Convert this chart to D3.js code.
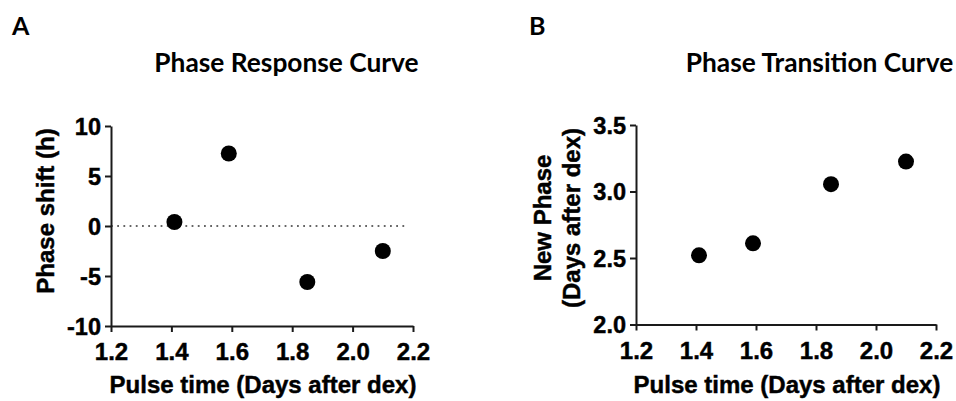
<!DOCTYPE html>
<html><head><meta charset="utf-8">
<script src="https://cdn.jsdelivr.net/npm/d3@7"></script>
<style>
html,body{margin:0;padding:0;background:#fff;}
svg{display:block;}
</style></head>
<body>
<svg id="chart" width="956" height="401"></svg>
<script>
// ---- data ----
const pulseTimes = [1.41, 1.59, 1.85, 2.10];
const phaseShift = [0.4, 7.25, -5.6, -2.5];
const newPhase = [2.52, 2.61, 3.055, 3.225];
const xTicks = [1.2, 1.4, 1.6, 1.8, 2.0, 2.2];
const yTicksA = [-10, -5, 0, 5, 10];
const yTicksB = [2.0, 2.5, 3.0, 3.5];
const titles = ["Phase Response Curve", "Phase Transition Curve"];
const panelLetters = ["A", "B"];
const xLabel = "Pulse time (Days after dex)";
const yLabelA = ["Phase shift (h)"];
const yLabelB = ["New Phase", "(Days after dex)"];

const svg = d3.select("#chart");
const axisFont = "'Liberation Sans', Arial, Helvetica, sans-serif";
const titleFont = "Lato, 'Open Sans', sans-serif";
const ink = "#1a1a1a";
const loc = d3.formatLocale({decimal: ".", thousands: ",", grouping: [3], currency: ["", ""], minus: "-"});

function heavy(sel) {
  return sel.attr("stroke", "#000").attr("stroke-width", 0.45).attr("paint-order", "stroke");
}

function panel(cfg) {
  const g = svg.append("g");
  const x = d3.scaleLinear().domain([1.2, 2.2]).range(cfg.xr);
  const y = d3.scaleLinear().domain(cfg.yd).range(cfg.yr);

  // letter
  g.append("text").attr("x", cfg.letterX).attr("y", 35)
    .attr("font-family", titleFont).attr("font-weight", 700).attr("font-size", 25)
    .attr("fill", "#000").text(cfg.letter);
  // title
  g.append("text").attr("x", cfg.titleX).attr("y", 72).attr("text-anchor", "middle")
    .attr("font-family", titleFont).attr("font-weight", 700).attr("font-size", 26.3)
    .attr("fill", "#000").text(cfg.title);

  // zero line
  if (cfg.zeroLine) {
    g.append("line").attr("x1", cfg.xr[0]).attr("x2", cfg.xr[1] - 5)
      .attr("y1", y(0)).attr("y2", y(0))
      .attr("stroke", "#333").attr("stroke-width", 1.6)
      .attr("stroke-dasharray", "1.8,4.4");
  }

  const xa = g.append("g").attr("transform", `translate(0,${cfg.yr[0]})`)
    .call(d3.axisBottom(x).tickValues(xTicks).tickFormat(loc.format(".1f"))
      .tickSize(6).tickPadding(11).tickSizeOuter(0));
  const ya = g.append("g").attr("transform", `translate(${cfg.xr[0]},0)`)
    .call(d3.axisLeft(y).tickValues(cfg.yTicks).tickFormat(loc.format(cfg.yFmt))
      .tickSize(6).tickPadding(4).tickSizeOuter(0));
  [xa, ya].forEach(a => {
    a.attr("font-family", axisFont);
    a.select(".domain").attr("stroke", ink).attr("stroke-width", 2);
    a.selectAll(".tick line").attr("stroke", ink).attr("stroke-width", 2);
    heavy(a.selectAll(".tick text").attr("fill", "#000")
      .attr("font-family", axisFont).attr("font-weight", 700));
  });
  xa.selectAll(".tick text").attr("font-size", 24);
  ya.selectAll(".tick text").attr("font-size", 23.5).attr("dy", "0.36em");

  // points
  g.selectAll("circle.pt").data(pulseTimes).enter().append("circle")
    .attr("class", "pt")
    .attr("cx", (d) => x(d))
    .attr("cy", (d, i) => y(cfg.values[i]))
    .attr("r", 8).attr("fill", "#000");

  // x label
  heavy(g.append("text").attr("x", (cfg.xr[0] + cfg.xr[1]) / 2 + 1).attr("y", 393)
    .attr("text-anchor", "middle").attr("font-family", axisFont)
    .attr("font-weight", 700).attr("font-size", 24).attr("fill", "#000")
    .text(xLabel));

  // y label
  cfg.yLabel.forEach((t, i) => {
    heavy(g.append("text")
      .attr("transform", `translate(${cfg.yLabelX + i * 29},${cfg.yLabelY}) rotate(-90)`)
      .attr("text-anchor", "middle").attr("font-family", axisFont)
      .attr("font-weight", 700).attr("font-size", 24).attr("fill", "#000")
      .text(t));
  });
}

panel({
  xr: [111, 413], yr: [326, 126], yd: [-10, 10], yTicks: yTicksA, yFmt: "d",
  values: phaseShift, zeroLine: true, letter: panelLetters[0], letterX: 12,
  title: titles[0], titleX: 286.5, yLabel: yLabelA, yLabelX: 54, yLabelY: 211
});
panel({
  xr: [636, 936], yr: [324.5, 125], yd: [2.0, 3.5], yTicks: yTicksB, yFmt: ".1f",
  values: newPhase, zeroLine: false, letter: panelLetters[1], letterX: 529,
  title: titles[1], titleX: 819.5, yLabel: yLabelB, yLabelX: 550.5, yLabelY: 218
});
</script>
</body></html>
